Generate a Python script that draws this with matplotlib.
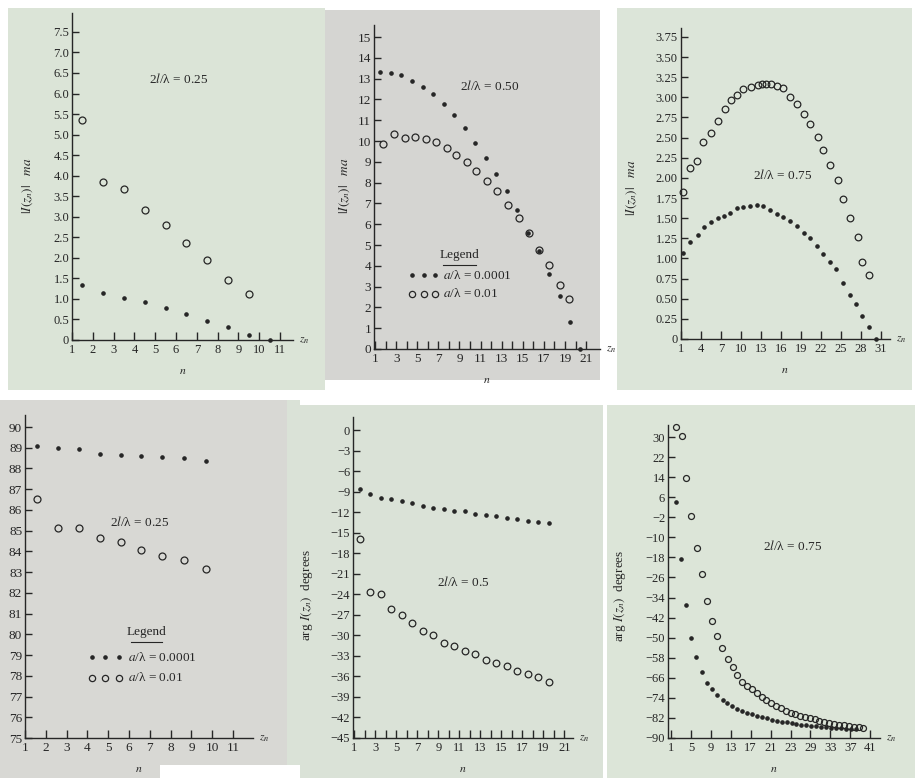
import matplotlib
matplotlib.use('Agg')
import matplotlib.pyplot as plt
from matplotlib.patches import Rectangle

plt.rcParams['font.family'] = ['Liberation Serif', 'DejaVu Serif']
plt.rcParams['mathtext.fontset'] = 'stix'

W, H = 918, 778
INK = '#262626'
MINUS = '\u2212'

# ---------------- data ----------------
# Panel 1: |I(z_n)|, 2l/lambda = 0.25
p1_dot_x = [1.5, 2.5, 3.5, 4.5, 5.5, 6.5, 7.5, 8.5, 9.5, 10.5]
p1_dot_y = [1.33, 1.15, 1.02, 0.92, 0.79, 0.63, 0.47, 0.32, 0.13, 0.0]
p1_circ_x = [1.5, 2.5, 3.5, 4.5, 5.5, 6.5, 7.5, 8.5, 9.5]
p1_circ_y = [5.35, 3.85, 3.67, 3.17, 2.80, 2.37, 1.95, 1.45, 1.12]

# Panel 2: |I(z_n)|, 2l/lambda = 0.50
p2_dot_x = [1.5, 2.5, 3.5, 4.5, 5.5, 6.5, 7.5, 8.5, 9.5, 10.5,
            11.5, 12.5, 13.5, 14.5, 15.5, 16.5, 17.5, 18.5, 19.5, 20.4]
p2_dot_y = [13.3, 13.28, 13.18, 12.9, 12.6, 12.25, 11.8, 11.25, 10.65, 9.9,
            9.2, 8.4, 7.6, 6.7, 5.6, 4.72, 3.62, 2.55, 1.3, 0.0]
p2_circ_x = [1.8, 2.8, 3.8, 4.8, 5.8, 6.8, 7.8, 8.7, 9.7, 10.6,
             11.6, 12.6, 13.6, 14.6, 15.6, 16.5, 17.5, 18.5, 19.4]
p2_circ_y = [9.84, 10.32, 10.16, 10.19, 10.08, 9.97, 9.65, 9.32, 9.0, 8.58,
             8.06, 7.61, 6.94, 6.29, 5.6, 4.76, 4.06, 3.06, 2.39]

# Panel 3: |I(z_n)|, 2l/lambda = 0.75
p3_circ_x = [1.35, 2.35, 3.45, 4.35, 5.5, 6.6, 7.6, 8.5, 9.45, 10.35,
             11.5, 12.5, 13.1, 13.7, 14.5, 15.4, 16.3, 17.3, 18.4, 19.4,
             20.3, 21.5, 22.3, 23.3, 24.5, 25.3, 26.3, 27.5, 28.2, 29.2]
p3_circ_y = [1.82, 2.12, 2.21, 2.44, 2.56, 2.71, 2.85, 2.97, 3.03, 3.10,
             3.13, 3.15, 3.17, 3.17, 3.16, 3.14, 3.11, 3.00, 2.92, 2.79,
             2.67, 2.51, 2.35, 2.16, 1.97, 1.74, 1.50, 1.26, 0.95, 0.80]
p3_dot_x = [1.35, 2.35, 3.5, 4.45, 5.5, 6.5, 7.5, 8.35, 9.45, 10.35,
            11.35, 12.35, 13.35, 14.35, 15.35, 16.3, 17.3, 18.4, 19.4, 20.3,
            21.4, 22.3, 23.3, 24.3, 25.3, 26.3, 27.3, 28.2, 29.2, 30.2]
p3_dot_y = [1.07, 1.20, 1.29, 1.39, 1.45, 1.50, 1.53, 1.57, 1.62, 1.64,
            1.65, 1.66, 1.65, 1.60, 1.55, 1.52, 1.46, 1.40, 1.32, 1.25,
            1.16, 1.05, 0.95, 0.87, 0.70, 0.54, 0.43, 0.28, 0.15, 0.0]

# Panel 4: arg I(z_n), 2l/lambda = 0.25
p4_x = [1.6, 2.6, 3.6, 4.6, 5.6, 6.6, 7.6, 8.65, 9.7]
p4_dot_y = [89.08, 88.98, 88.92, 88.7, 88.65, 88.62, 88.57, 88.49, 88.34]
p4_circ_y = [86.53, 85.13, 85.13, 84.67, 84.47, 84.06, 83.8, 83.57, 83.15]

# Panel 5: arg I(z_n), 2l/lambda = 0.5
p5_x = [1.5, 2.5, 3.5, 4.5, 5.5, 6.5, 7.5, 8.5, 9.5, 10.5,
        11.5, 12.5, 13.5, 14.5, 15.5, 16.5, 17.5, 18.5, 19.5]
p5_dot_y = [-8.6, -9.4, -9.9, -10.1, -10.4, -10.7, -11.05, -11.4, -11.6, -11.8,
            -11.9, -12.2, -12.4, -12.55, -12.8, -13.05, -13.25, -13.5, -13.6]
p5_circ_y = [-15.9, -23.6, -24.0, -26.1, -27.1, -28.2, -29.3, -30.0, -31.1, -31.5,
             -32.3, -32.75, -33.6, -34.1, -34.55, -35.2, -35.7, -36.15, -36.75]

# Panel 6: arg I(z_n), 2l/lambda = 0.75
p6_circ_x = [2.0, 3.2, 4.1, 5.1, 6.2, 7.2, 8.2, 9.3, 10.2, 11.3,
             12.4, 13.4, 14.3, 15.3, 16.3, 17.2, 18.2, 19.2, 20.1, 21.1,
             22.1, 23.0, 24.1, 25.0, 25.9, 26.9, 27.9, 28.9, 29.9, 30.8,
             31.8, 32.8, 33.7, 34.7, 35.7, 36.7, 37.7, 38.7, 39.6]
p6_circ_y = [34.1, 30.5, 13.8, -1.4, -14.1, -24.7, -35.2, -43.3, -49.2, -54.0,
             -58.4, -61.6, -64.9, -67.6, -69.3, -70.6, -72.2, -73.8, -74.9, -76.2,
             -77.3, -78.2, -79.3, -79.9, -80.6, -81.2, -81.8, -82.2, -82.6, -83.1,
             -83.5, -83.9, -84.3, -84.7, -85.0, -85.2, -85.5, -85.8, -86.0]
p6_dot_x = [2.0, 3.0, 4.0, 5.0, 6.0, 7.2, 8.2, 9.3, 10.3, 11.4,
            12.2, 13.2, 14.2, 15.2, 16.2, 17.2, 18.2, 19.2, 20.2, 21.2,
            22.2, 23.2, 24.2, 25.2, 26.2, 27.2, 28.2, 29.2, 30.2, 31.2,
            32.2, 33.2, 34.2, 35.2, 36.2, 37.2, 38.2]
p6_dot_y = [4.0, -18.5, -37.0, -50.0, -57.8, -63.6, -68.0, -70.6, -72.9, -74.9,
            -76.2, -77.3, -78.3, -79.1, -79.9, -80.4, -81.1, -81.7, -82.2, -82.7,
            -83.1, -83.5, -83.8, -84.1, -84.4, -84.7, -84.9, -85.1, -85.3, -85.5,
            -85.7, -85.9, -86.0, -86.2, -86.3, -86.5, -86.6]

# ticks
p1_xticks = list(range(1, 12))
p1_xlabels = [str(v) for v in p1_xticks]
p1_yticks = [0, 0.5, 1.0, 1.5, 2.0, 2.5, 3.0, 3.5, 4.0, 4.5, 5.0, 5.5, 6.0, 6.5, 7.0, 7.5]
p1_ylabels = ['0', '0.5', '1.0', '1.5', '2.0', '2.5', '3.0', '3.5', '4.0', '4.5',
              '5.0', '5.5', '6.0', '6.5', '7.0', '7.5']
p2_xticks = list(range(1, 22))
p2_xlabels = [str(v) if v % 2 == 1 else '' for v in p2_xticks]
p2_yticks = list(range(0, 16))
p2_ylabels = [str(v) for v in p2_yticks]
p3_xticks = [1, 4, 7, 10, 13, 16, 19, 22, 25, 28, 31]
p3_xlabels = [str(v) for v in p3_xticks]
p3_yticks = [0, 0.25, 0.5, 0.75, 1.0, 1.25, 1.5, 1.75, 2.0, 2.25, 2.5, 2.75, 3.0, 3.25, 3.5, 3.75]
p3_ylabels = ['0', '0.25', '0.50', '0.75', '1.00', '1.25', '1.50', '1.75', '2.00',
              '2.25', '2.50', '2.75', '3.00', '3.25', '3.50', '3.75']
p4_xticks = list(range(1, 12))
p4_xlabels = [str(v) for v in p4_xticks]
p4_yticks = list(range(75, 91))
p4_ylabels = [str(v) for v in p4_yticks]
p5_xticks = list(range(1, 22))
p5_xlabels = [str(v) if v % 2 == 1 else '' for v in p5_xticks]
p5_yticks = [0, -3, -6, -9, -12, -15, -18, -21, -24, -27, -30, -33, -36, -39, -42, -45]
p5_ylabels = [str(v).replace('-', MINUS) for v in p5_yticks]
p6_xticks = [1, 5, 9, 13, 17, 21, 25, 29, 33, 37, 41]
p6_xlabels = ['1', '5', '9', '13', '17', '21', '23', '29', '33', '37', '41']
p6_yticks = [30, 22, 14, 6, -2, -10, -18, -26, -34, -42, -50, -58, -66, -74, -82, -90]
p6_ylabels = [str(v).replace('-', MINUS) for v in p6_yticks]

# ---------------- figure ----------------
fig = plt.figure(figsize=(W / 100, H / 100), dpi=100)
fig.patch.set_facecolor('white')


def bg(x0, y0, x1, y1, color):
    fig.add_artist(Rectangle((x0 / W, 1 - y1 / H), (x1 - x0) / W, (y1 - y0) / H,
                             transform=fig.transFigure, facecolor=color,
                             edgecolor='none', zorder=-10))


bg(8, 8, 325, 390, '#dbe4d7')
bg(325, 10, 600, 380, '#d5d5d2')
bg(617, 8, 912, 390, '#dce5d9')
bg(0, 400, 287, 778, '#d8d8d4')
bg(287, 400, 300, 778, '#dae2d7')
bg(160, 765, 300, 778, 'white')
bg(300, 405, 603, 778, '#dae2d7')
bg(607, 405, 915, 778, '#dce5d8')


def add_ax(left, right, top, bottom):
    return fig.add_axes([left / W, 1 - bottom / H, (right - left) / W, (bottom - top) / H])


def style(ax, xlim, ylim, xt, xl, yt, yl, fs=9):
    ax.set_xlim(xlim)
    ax.set_ylim(ylim)
    ax.patch.set_alpha(0)
    for s in ['top', 'right']:
        ax.spines[s].set_visible(False)
    for s in ['left', 'bottom']:
        ax.spines[s].set_color(INK)
        ax.spines[s].set_linewidth(1.0)
    ax.set_xticks(xt)
    ax.set_xticklabels(xl)
    ax.set_yticks(yt)
    ax.set_yticklabels(yl)
    ax.tick_params(axis='x', direction='in', length=6, width=1.0, color=INK,
                   pad=3, labelsize=fs, labelcolor=INK)
    ax.tick_params(axis='y', direction='in', length=5, width=1.0, color=INK,
                   pad=2, labelsize=fs, labelcolor=INK)
    ax.annotate(r'$z_n$', xy=(1, 0), xycoords='axes fraction', xytext=(4, 0),
                textcoords='offset points', ha='left', va='center', fontsize=8.5, color=INK)
    ax.annotate(r'$n$', xy=(0.5, 0), xycoords='axes fraction', xytext=(0, -22),
                textcoords='offset points', ha='center', va='center', fontsize=8.5, color=INK)


def dots(ax, x, y):
    ax.plot(x, y, 'o', ms=2.3, color=INK, ls='none', clip_on=False, zorder=3)


def circs(ax, x, y, ms=5.0):
    ax.plot(x, y, 'o', ms=ms, mfc='none', mec=INK, mew=0.9, ls='none', clip_on=False, zorder=3)


def ylab(x, y, s):
    fig.text(x / W, 1 - y / H, s, rotation=90, ha='center', va='center', fontsize=9.5, color=INK)


def legend(ax, cx, ty, sym_x, txt_x, y1, y2, dy_ul, half_ul):
    ax.text(cx, ty, 'Legend', ha='center', va='center', fontsize=9.5, color=INK)
    ax.plot([cx - half_ul, cx + half_ul], [ty - dy_ul, ty - dy_ul], color=INK, lw=0.8)
    dots(ax, sym_x, [y1] * len(sym_x))
    circs(ax, sym_x, [y2] * len(sym_x), ms=4.5)
    ax.text(txt_x, y1, r'$a$/λ = 0.0001', ha='left', va='center', fontsize=9.5, color=INK)
    ax.text(txt_x, y2, r'$a$/λ = 0.01', ha='left', va='center', fontsize=9.5, color=INK)


# Panel 1
ax1 = add_ax(72, 293, 13, 340)
style(ax1, (1, 11.62), (0, 7.96), p1_xticks, p1_xlabels, p1_yticks, p1_ylabels)
circs(ax1, p1_circ_x, p1_circ_y)
dots(ax1, p1_dot_x, p1_dot_y)
ax1.text(6.1, 6.35, r'2$l$/λ = 0.25', ha='center', va='center', fontsize=9.5, color=INK)
ylab(28, 186, r'$|I(z_n)|\quad ma$')

# Panel 2
ax2 = add_ax(374, 600, 25, 349)
style(ax2, (0.9, 22.32), (0, 15.58), p2_xticks, p2_xlabels, p2_yticks, p2_ylabels, fs=9.5)
circs(ax2, p2_circ_x, p2_circ_y)
dots(ax2, p2_dot_x, p2_dot_y)
ax2.text(11.9, 12.65, r'2$l$/λ = 0.50', ha='center', va='center', fontsize=9.5, color=INK)
legend(ax2, 9.0, 4.5, [4.5, 5.6, 6.7], 7.4, 3.55, 2.66, 0.45, 1.6)
ylab(345, 186, r'$|I(z_n)|\quad ma$')

# Panel 3
ax3 = add_ax(680.5, 890, 28, 339)
style(ax3, (0.95, 32.36), (0, 3.86), p3_xticks, p3_xlabels, p3_yticks, p3_ylabels)
circs(ax3, p3_circ_x, p3_circ_y, ms=4.8)
dots(ax3, p3_dot_x, p3_dot_y)
ax3.text(16.3, 2.03, r'2$l$/λ = 0.75', ha='center', va='center', fontsize=9.5, color=INK)
ylab(632, 188, r'$|I(z_n)|\quad ma$')

# Panel 4
ax4 = add_ax(25, 253, 415, 738)
style(ax4, (1, 11.96), (75, 90.58), p4_xticks, p4_xlabels, p4_yticks, p4_ylabels, fs=9.5)
circs(ax4, p4_x, p4_circ_y)
dots(ax4, p4_x, p4_dot_y)
ax4.text(6.5, 85.4, r'2$l$/λ = 0.25', ha='center', va='center', fontsize=9.5, color=INK)
legend(ax4, 6.85, 80.1, [4.2, 4.85, 5.5], 5.95, 78.9, 77.9, 0.45, 0.75)

# Panel 5
ax5 = add_ax(353, 573, 417, 738)
style(ax5, (0.88, 21.83), (-45, 1.9), p5_xticks, p5_xlabels, p5_yticks, p5_ylabels)
circs(ax5, p5_x, p5_circ_y, ms=4.8)
dots(ax5, p5_x, p5_dot_y)
ax5.text(11.4, -22.2, r'2$l$/λ = 0.5', ha='center', va='center', fontsize=9.5, color=INK)
ylab(307, 595, r'arg $I(z_n)$  degrees')

# Panel 6
ax6 = add_ax(668, 880, 425, 738)
style(ax6, (0.4, 42.97), (-90, 34.8), p6_xticks, p6_xlabels, p6_yticks, p6_ylabels)
circs(ax6, p6_circ_x, p6_circ_y, ms=4.3)
dots(ax6, p6_dot_x, p6_dot_y)
ax6.text(25.5, -13.5, r'2$l$/λ = 0.75', ha='center', va='center', fontsize=9.5, color=INK)
ylab(620, 596, r'arg $I(z_n)$  degrees')

fig.savefig('out.png', dpi=100, facecolor='white')
